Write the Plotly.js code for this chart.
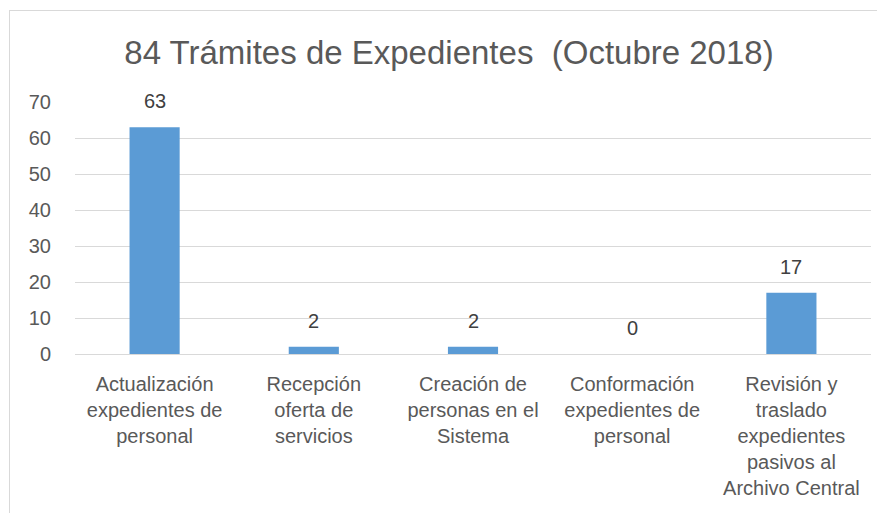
<!DOCTYPE html>
<html>
<head>
<meta charset="utf-8">
<script src="https://cdn.plot.ly/plotly-3.0.1.min.js"></script>
<style>
html,body{margin:0;padding:0;background:#fff;}
#wrap{position:relative;width:877px;height:513px;}
#chart{position:absolute;left:0;top:0;width:877px;height:513px;}
#frame{position:absolute;left:9px;top:10px;width:880px;height:520px;border-left:1px solid #d9d9d9;border-top:1px solid #d9d9d9;pointer-events:none;}
</style>
</head>
<body>
<div id="wrap"><div id="chart"></div><div id="frame"></div></div>
<script>
const categories = [
  "Actualización<br>expedientes de<br>personal",
  "Recepción<br>oferta de<br>servicios",
  "Creación de<br>personas en el<br>Sistema",
  "Conformación<br>expedientes de<br>personal",
  "Revisión y<br>traslado<br>expedientes<br>pasivos al<br>Archivo Central"
];
const values = [63, 2, 2, 0, 17];
const yTicks = [0, 10, 20, 30, 40, 50, 60, 70];
const titleText = "84 Trámites de Expedientes  (Octubre 2018)";

const FONT = "'Liberation Sans', Arial, sans-serif";
const idx = categories.map((c, i) => i);

const trace = {
  type: 'bar',
  x: idx,
  y: values,
  marker: {color: '#5b9bd5'},
  width: 0.315,
  hoverinfo: 'none'
};

const annotations = values.map((v, i) => ({
  x: i, y: v, xref: 'x', yref: 'y',
  text: String(v), showarrow: false,
  yanchor: 'middle', yshift: 26,
  font: {family: FONT, size: 20, color: '#404040'}
}));

const layout = {
  width: 877, height: 513,
  margin: {l: 75, r: 6, t: 102, b: 159, pad: 0},
  paper_bgcolor: '#fff', plot_bgcolor: '#fff',
  showlegend: false,
  title: {
    text: titleText,
    font: {family: FONT, size: 33, color: '#595959'},
    x: 449/877, xanchor: 'center', xref: 'container',
    y: 1 - 52/513, yanchor: 'middle', yref: 'container'
  },
  xaxis: {
    range: [-0.5, 4.5],
    tickmode: 'array', tickvals: idx, ticktext: categories,
    ticks: 'outside', ticklen: 12, tickcolor: 'rgba(0,0,0,0)',
    showgrid: false, zeroline: false, showline: false,
    tickfont: {family: FONT, size: 20, color: '#595959'},
    fixedrange: true
  },
  yaxis: {
    range: [0, 70],
    tickmode: 'array', tickvals: yTicks,
    ticks: 'outside', ticklen: 19, tickcolor: 'rgba(0,0,0,0)',
    showgrid: true, gridcolor: '#d9d9d9', gridwidth: 1,
    zeroline: true, zerolinecolor: '#d9d9d9', zerolinewidth: 1,
    showline: false,
    tickfont: {family: FONT, size: 20, color: '#595959'},
    fixedrange: true
  },
  annotations: annotations
};

Plotly.newPlot('chart', [trace], layout, {displayModeBar: false, staticPlot: true});
</script>
</body>
</html>
